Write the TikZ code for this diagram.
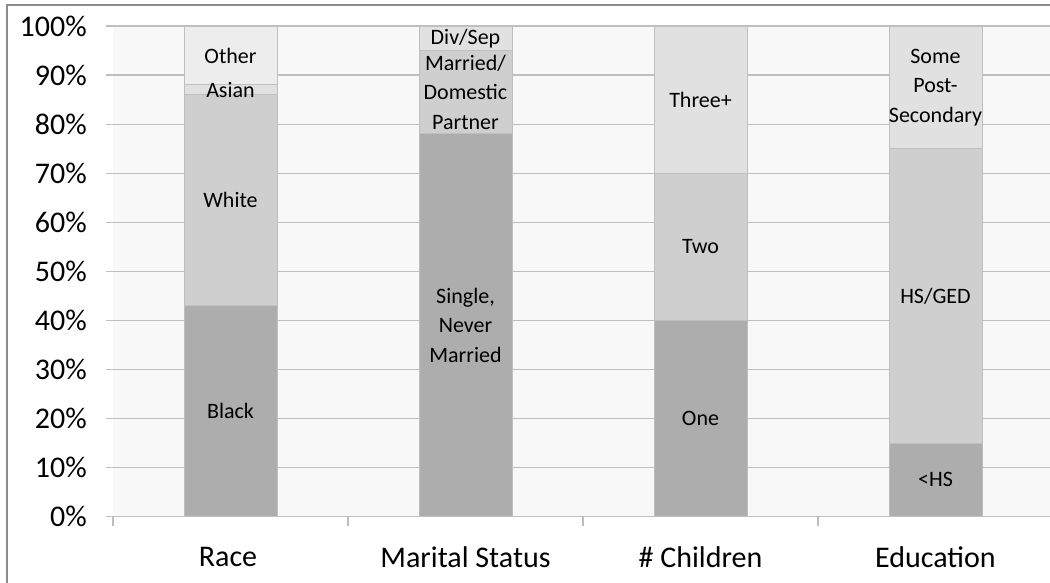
\documentclass[tikz,border=0pt]{standalone}
\usepackage{fontspec}
\setmainfont{Carlito}
\definecolor{plotbg}{HTML}{F8F8F8}
\definecolor{gridc}{HTML}{BFBFBF}
\definecolor{segone}{HTML}{ADADAD}
\definecolor{segtwo}{HTML}{CFCFCF}
\definecolor{segthree}{HTML}{E1E1E1}
\definecolor{segfour}{HTML}{EDEDED}
\definecolor{framec}{HTML}{8C8C8C}

\begin{document}
\begin{tikzpicture}[x=1pt, y=4.907pt,
		seg/.style={draw=gridc, line width=1pt},
		seglabel/.style={font=\fontsize{22}{29.5}\selectfont, align=center, inner sep=0pt},
		ylabel/.style={font=\fontsize{30}{34}\selectfont, anchor=east, inner sep=0pt},
		catlabel/.style={font=\fontsize{30}{34}\selectfont, inner sep=0pt},
		gridline/.style={gridc, line width=1.2pt},
	]

	\useasboundingbox (-113,-13.306) rectangle (937,105.30);

	% chart frame and plot area
	\draw[framec, line width=1.5pt] (-106,-20) rectangle (960,104.28);
	\fill[plotbg] (0,0) rectangle (950,100);
	\foreach \v in {0,10,...,100} {
		\draw[gridline] (-7,\v) -- (950,\v);
		\node[ylabel] (y\v) at (-26,\v) {\v\%};
	}
	\foreach \t in {0,235,470,705} {
		\draw[gridline] (\t,0) -- (\t,-1.9);
	}

	% Race
	\draw[seg, fill=segone] (71,0) rectangle (164,43);
	\draw[seg, fill=segtwo] (71,43) rectangle (164,86);
	\draw[seg, fill=segthree] (71,86) rectangle (164,88);
	\draw[seg, fill=segfour] (71,88) rectangle (164,100);
	\node[seglabel] (black) at (117.5,21.5) {Black};
	\node[seglabel] (white) at (117.5,64.5) {White};
	\node[seglabel] (asian) at (117.5,87) {Asian};
	\node[seglabel] (other) at (117.5,94) {Other};

	% Marital Status
	\draw[seg, fill=segone] (306,0) rectangle (399,78);
	\draw[seg, fill=segtwo] (306,78) rectangle (399,95);
	\draw[seg, fill=segthree] (306,95) rectangle (399,100);
	\node[seglabel] (single) at (352.5,39) {Single,\\Never\\Married};
	\node[seglabel] (married) at (352.5,86.5) {Married/\\Domestic\\Partner};
	\node[seglabel] (divsep) at (352.5,97.5) {Div/Sep};

	% # Children
	\draw[seg, fill=segone] (541,0) rectangle (634,40);
	\draw[seg, fill=segtwo] (541,40) rectangle (634,70);
	\draw[seg, fill=segthree] (541,70) rectangle (634,100);
	\node[seglabel] (one) at (587.5,20) {One};
	\node[seglabel] (two) at (587.5,55) {Two};
	\node[seglabel] (three) at (587.5,85) {Three+};

	% Education
	\draw[seg, fill=segone] (776,0) rectangle (869,15);
	\draw[seg, fill=segtwo] (776,15) rectangle (869,75);
	\draw[seg, fill=segthree] (776,75) rectangle (869,100);
	\node[seglabel] (lesshs) at (822.5,7.5) {<HS};
	\node[seglabel] (hsged) at (822.5,45) {HS/GED};
	\node[seglabel] (somepost) at (822.5,87.5) {Some\\Post-\\Secondary};

	% categories
	\node[catlabel] (race) at (115,-8.2) {Race};
	\node[catlabel] (marital) at (352.5,-8.2) {Marital Status};
	\node[catlabel] (children) at (587.5,-8.2) {\# Children};
	\node[catlabel] (education) at (822.5,-8.2) {Education};

\end{tikzpicture}
\end{document}
